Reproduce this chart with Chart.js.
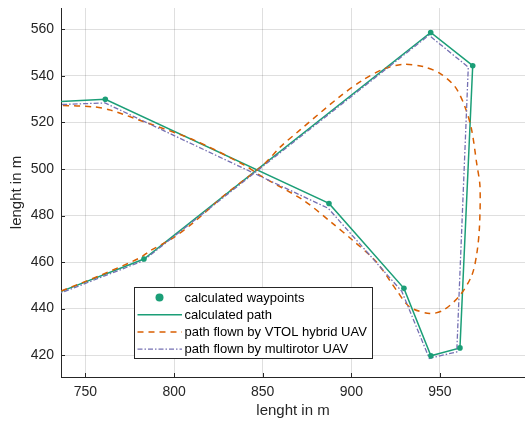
<!DOCTYPE html>
<html>
<head>
<meta charset="utf-8">
<title>flight paths</title>
<script src="https://cdn.jsdelivr.net/npm/chart.js@4.4.1/dist/chart.umd.min.js"></script>
<style>
  html, body { margin: 0; padding: 0; background: #fff; }
</style>
</head>
<body>
<canvas id="pathChart" width="525" height="422"></canvas>
<script>
// calculated waypoints (the calculated path runs through them, first/last lie off the plot)
var waypointX = [725, 761.2, 887.4, 929.7, 944.9, 961.3, 968.5, 944.8, 783.0, 725];
var waypointY = [528.6, 530.0, 485.2, 448.7, 419.7, 423.1, 544.4, 558.7, 461.3, 444.0];

// path flown by VTOL hybrid UAV
var vtolX = [725, 735.8, 754.7, 764.2, 783, 811.3, 839.6, 849, 872.9, 889.6, 900.9, 914.2,
             925.5, 933, 944.3, 951.9, 961.3, 968, 970.8, 972.3, 972.6, 970.7, 967.9, 964.1,
             958.5, 950, 940.6, 929.3, 918, 906.7, 893.5, 871.1, 860, 850, 829.6, 810.8,
             799.5, 786.4, 780.7, 758.1, 735.5, 725];
var vtolY = [528.0, 527.4, 526.7, 525.3, 520.3, 512.4, 501.7, 497.0, 486.6, 476.5, 469.3, 460.0,
             447.9, 440.7, 437.9, 439.3, 445.7, 454.3, 463.6, 475.0, 492.5, 502.6, 516.8, 526.8,
             535.4, 541.1, 544.0, 545.0, 542.9, 538.3, 531.1, 516.8, 509.5, 501.5, 489.5, 476.9,
             470.4, 464.8, 461.8, 454.2, 447.3, 444.0];

// path flown by multirotor UAV
var multiX = [725, 761.0, 887.0, 928.5, 944.0, 959.5, 966.0, 943.8, 782.5, 725];
var multiY = [527.4, 528.4, 483.1, 447.4, 418.6, 421.4, 543.8, 557.5, 460.5, 443.4];

var xTicks = [750, 800, 850, 900, 950];
var yTicks = [420, 440, 460, 480, 500, 520, 540, 560];

var labels = ['calculated waypoints', 'calculated path',
              'path flown by VTOL hybrid UAV', 'path flown by multirotor UAV'];

var green = '#1b9e77', orange = '#d95f02', purple = '#7570b3';
var axisColor = '#262626', gridColor = 'rgba(38,38,38,0.15)';

function pts(xs, ys) {
  return xs.map(function (x, i) { return { x: x, y: ys[i] }; });
}

// MATLAB-like ticks pointing into the plot
var innerTicks = {
  id: 'innerTicks',
  afterDatasetsDraw: function (chart) {
    var ctx = chart.ctx, a = chart.chartArea;
    var xs = chart.scales.x, ys = chart.scales.y;
    ctx.save();
    ctx.strokeStyle = axisColor;
    ctx.lineWidth = 1;
    ctx.beginPath();
    xTicks.forEach(function (v) {
      var px = Math.round(xs.getPixelForValue(v)) + 0.5;
      ctx.moveTo(px, a.bottom);
      ctx.lineTo(px, a.bottom - 4);
    });
    yTicks.forEach(function (v) {
      var py = Math.round(ys.getPixelForValue(v)) + 0.5;
      ctx.moveTo(a.left, py);
      ctx.lineTo(a.left + 4, py);
    });
    ctx.stroke();
    ctx.restore();
  }
};

// boxed legend inside the axes
var legendBox = {
  id: 'legendBox',
  afterDraw: function (chart) {
    var ctx = chart.ctx;
    var x0 = 134.5, y0 = 287.5, w = 238, h = 71;
    ctx.save();
    ctx.fillStyle = '#fff';
    ctx.fillRect(x0, y0, w, h);
    ctx.strokeStyle = axisColor;
    ctx.lineWidth = 1;
    ctx.strokeRect(x0, y0, w, h);
    ctx.font = '13px "Liberation Sans", Arial, sans-serif';
    ctx.textBaseline = 'middle';
    var styles = [
      { dot: true },
      { color: green, width: 1.5, dash: [] },
      { color: orange, width: 1.5, dash: [6, 5] },
      { color: purple, width: 1.2, dash: [5, 2, 1.5, 2] }
    ];
    labels.forEach(function (lab, i) {
      var cy = y0 + 10 + i * 17.2;
      var s = styles[i];
      if (s.dot) {
        ctx.fillStyle = green;
        ctx.beginPath();
        ctx.arc(159.5, cy, 4, 0, Math.PI * 2);
        ctx.fill();
      } else {
        ctx.strokeStyle = s.color;
        ctx.lineWidth = s.width;
        ctx.setLineDash(s.dash);
        ctx.beginPath();
        ctx.moveTo(137.5, cy);
        ctx.lineTo(182, cy);
        ctx.stroke();
        ctx.setLineDash([]);
      }
      ctx.fillStyle = '#000';
      ctx.fillText(lab, 184.5, cy + 0.5);
    });
    ctx.restore();
  }
};

var ctx = document.getElementById('pathChart').getContext('2d');
var pathChart = new Chart(ctx, {
  type: 'scatter',
  data: {
    datasets: [{
      label: labels[0],
      data: pts(waypointX, waypointY),
      showLine: false,
      pointRadius: 2.8,
      pointBackgroundColor: green,
      pointBorderWidth: 0,
      order: 0
    }, {
      label: labels[1],
      data: pts(waypointX, waypointY),
      showLine: true,
      borderColor: green,
      borderWidth: 1.5,
      pointRadius: 0,
      order: 3
    }, {
      label: labels[2],
      data: pts(vtolX, vtolY),
      showLine: true,
      borderColor: orange,
      borderWidth: 1.5,
      borderDash: [6, 5],
      tension: 0.3,
      pointRadius: 0,
      order: 2
    }, {
      label: labels[3],
      data: pts(multiX, multiY),
      showLine: true,
      borderColor: purple,
      borderWidth: 1.3,
      borderDash: [5, 2, 1.5, 2],
      pointRadius: 0,
      order: 1
    }]
  },
  options: {
    responsive: false,
    animation: false,
    layout: { autoPadding: false, padding: { top: 8, right: 0, bottom: 0, left: 0 } },
    plugins: {
      legend: { display: false },
      tooltip: { enabled: false }
    },
    scales: {
      x: {
        type: 'linear',
        min: 736.2,
        max: 998,
        afterBuildTicks: function (s) { s.ticks = xTicks.map(function (v) { return { value: v }; }); },
        afterFit: function (s) { s.height = 45; s.paddingLeft = 0; s.paddingRight = 0; },
        ticks: {
          color: axisColor,
          padding: 7,
          maxRotation: 0,
          font: { family: '"Liberation Sans", Arial, sans-serif', size: 14 }
        },
        grid: { color: gridColor, drawTicks: false },
        border: { color: axisColor, width: 1 },
        title: {
          display: true,
          text: 'lenght in m',
          color: axisColor,
          padding: { top: 0, bottom: 2 },
          font: { family: '"Liberation Sans", Arial, sans-serif', size: 15 }
        }
      },
      y: {
        type: 'linear',
        min: 410.6,
        max: 569.2,
        afterBuildTicks: function (s) { s.ticks = yTicks.map(function (v) { return { value: v }; }); },
        afterFit: function (s) { s.width = 61; s.paddingTop = 0; s.paddingBottom = 0; },
        ticks: {
          color: axisColor,
          padding: 7,
          font: { family: '"Liberation Sans", Arial, sans-serif', size: 14 }
        },
        grid: { color: gridColor, drawTicks: false },
        border: { color: axisColor, width: 1 },
        title: {
          display: true,
          text: 'lenght in m',
          color: axisColor,
          padding: { top: 8, bottom: 0 },
          font: { family: '"Liberation Sans", Arial, sans-serif', size: 15 }
        }
      }
    }
  },
  plugins: [innerTicks, legendBox]
});
</script>
</body>
</html>
